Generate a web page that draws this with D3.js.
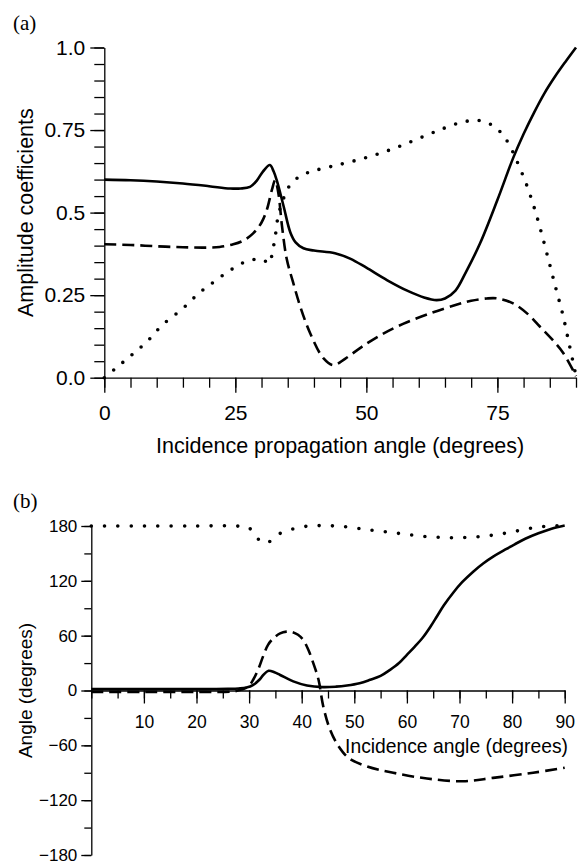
<!DOCTYPE html>
<html>
<head>
<meta charset="utf-8">
<script src="https://cdn.jsdelivr.net/npm/d3@7"></script>
<style>
    body { margin: 0; background: #fff; }
    svg { display: block; }
    .tick text { font-family: "Liberation Sans", Arial, sans-serif; fill: #000; }
    .domain, .tick line { stroke: #000; stroke-width: 1.3; }
    .curve { fill: none; stroke: #000; }
</style>
</head>
<body>
<div id="chart"></div>
<script>
"use strict";

// panel (a): amplitude coefficients vs incidence angle
const aTicksX = [0, 25, 50, 75];
const aTicksY = [0, 0.25, 0.5, 0.75, 1.0];
const aTickLabelsY = ["0.0", "0.25", "0.5", "0.75", "1.0"];

const aSolid = [
    [0, 0.600], [5, 0.598], [10, 0.594], [15, 0.588], [20, 0.580], [24, 0.573], [26, 0.573],
    [27.8, 0.578], [29.1, 0.597], [30.3, 0.625], [31.6, 0.644], [32.3, 0.625], [32.9, 0.598],
    [34.2, 0.52], [35.5, 0.44], [36.5, 0.41], [38, 0.392], [40, 0.385], [44, 0.377], [47, 0.36],
    [50, 0.333], [54, 0.295], [58, 0.262], [61, 0.243], [63.4, 0.235], [65, 0.24], [67, 0.264],
    [69, 0.32], [71.7, 0.407], [75, 0.538], [78, 0.665], [80, 0.738], [82, 0.803], [84, 0.862],
    [86, 0.912], [88, 0.957], [90, 1.0]
];
const aDashed = [
    [0, 0.404], [5, 0.402], [10, 0.398], [15, 0.395], [19.5, 0.394], [22, 0.396], [24.6, 0.404],
    [26.5, 0.415], [28.4, 0.437], [30, 0.47], [31, 0.508], [32, 0.57], [32.6, 0.598], [33.2, 0.56],
    [33.9, 0.46], [34.8, 0.36], [36, 0.29], [37.5, 0.21], [39.3, 0.134], [41.8, 0.059], [43.7, 0.038],
    [46, 0.058], [49, 0.092], [52.6, 0.128], [57, 0.163], [62.2, 0.195], [67, 0.22], [70, 0.233],
    [73, 0.240], [75, 0.24], [78, 0.225], [81, 0.19], [83.1, 0.155], [85.5, 0.115], [87.6, 0.074], [90, 0.005]
];
const aDotted = [
    [0, 0], [2, 0.026], [5, 0.066], [8, 0.107], [11.1, 0.16], [15, 0.21], [18, 0.255], [20.8, 0.289],
    [24, 0.325], [26.9, 0.351], [29.2, 0.359], [30.5, 0.355], [31.5, 0.346], [32.1, 0.385], [32.6, 0.424],
    [32.9, 0.465], [33.5, 0.51], [34.2, 0.543], [35.3, 0.58], [37.2, 0.609], [39.4, 0.624], [41.8, 0.634],
    [45, 0.646], [49.8, 0.666], [54.5, 0.69], [59, 0.718], [63.6, 0.748], [67.4, 0.770], [69.8, 0.778],
    [72.3, 0.777], [74.6, 0.758], [76.3, 0.730], [77.6, 0.695], [78.7, 0.657], [80.6, 0.583], [82.2, 0.506],
    [83.6, 0.427], [84.9, 0.348], [86.2, 0.268], [87.5, 0.19], [88.6, 0.109], [89.7, 0.028], [90, 0.005]
];

// panel (b): phase angles vs incidence angle
const bTicksX = [10, 20, 30, 40, 50, 60, 70, 80, 90];
const bTicksY = [-180, -120, -60, 0, 60, 120, 180];

const bSolid = [
    [0, 1.5], [10, 1.5], [20, 1.5], [26, 1.8], [28, 2.2], [29.5, 3.2], [30.8, 6.2], [32, 12], [32.7, 17],
    [33.7, 21.5], [34.8, 20], [35.9, 17], [38.4, 10], [41, 5.5], [44, 3.7], [46.5, 4.2], [48.6, 5.5],
    [51, 8], [53, 11.7], [55, 16], [56.8, 22.6], [58.5, 30], [60, 39], [61.5, 48], [63.1, 58.5],
    [64.5, 70], [65.7, 81], [67, 93], [68.8, 107], [70.5, 118.5], [72.6, 130], [74.5, 139], [76.4, 146.5],
    [78.5, 153.5], [80.5, 160], [82.5, 166], [85, 172], [87.5, 177], [90, 180.5]
];
const bDashed = [
    [0, -1.5], [10, -1.5], [20, -1.5], [27, -1], [28.5, 1], [29.8, 4], [30.8, 12], [31.7, 22.6],
    [32.7, 38], [33.6, 50], [34.6, 57], [35.9, 62.5], [37.1, 64.4], [38.2, 64], [39.3, 61], [40.3, 55.3],
    [41.3, 44], [42.2, 30], [43.2, 11.7], [44.1, -17.5], [45.4, -43], [47, -61], [48.9, -73.7],
    [52.4, -83], [57.4, -90], [63.8, -96.3], [70.7, -99.3], [76.4, -95.6], [84, -90], [90, -84.5]
];
const bDotted = [
    [0, 180], [10, 180], [20, 180], [27.5, 180], [29.9, 178.3], [31.4, 167.4], [33.2, 160.8],
    [35.2, 169.9], [37.5, 175.3], [40, 179], [42.5, 180.3], [45, 180.3], [47.3, 179.7], [50, 178],
    [52.4, 176], [55, 174.4], [57.5, 172.6], [60, 170.8], [62.5, 169], [65, 168], [67.5, 167.3],
    [70, 167.2], [72.5, 167.8], [75, 169], [77.5, 171], [80, 173.5], [82.5, 176.5], [85, 179],
    [87.5, 180], [90, 180.5]
];

(function () {
    const width = 579;
    const height = 864;

    const svg = d3.select("#chart")
        .append("svg")
        .attr("width", width)
        .attr("height", height);

    const sans = "Liberation Sans, Arial, sans-serif";
    const serif = "Liberation Serif, Times New Roman, serif";

    function drawCurves(g, x, y, solid, dashed, dotted, dotGap) {
        const line = d3.line()
            .x(d => x(d[0]))
            .y(d => y(d[1]))
            .curve(d3.curveCatmullRom.alpha(0.5));

        g.append("path").attr("class", "curve")
            .attr("d", line(dotted))
            .attr("stroke-width", 3.6)
            .attr("stroke-linecap", "round")
            .attr("stroke-dasharray", "0," + dotGap);
        g.append("path").attr("class", "curve")
            .attr("d", line(dashed))
            .attr("stroke-width", 2.6)
            .attr("stroke-dasharray", "12,6");
        g.append("path").attr("class", "curve")
            .attr("d", line(solid))
            .attr("stroke-width", 2.6);
    }

    // ---------- panel (a) ----------
    const xA = d3.scaleLinear().domain([0, 90]).range([104.3, 576]);
    const yA = d3.scaleLinear().domain([0, 1]).range([377.7, 47.5]);

    // minor ticks first, majors on top
    svg.append("g")
        .attr("transform", `translate(0,${yA(0)})`)
        .call(d3.axisBottom(xA).tickValues(d3.range(0, 91, 5)).tickSize(10).tickFormat(""))
        .call(g => g.select(".domain").remove());
    svg.append("g")
        .attr("transform", `translate(0,${yA(0)})`)
        .call(d3.axisBottom(xA).tickValues(aTicksX).tickSize(15).tickSizeOuter(0).tickPadding(12))
        .call(g => g.selectAll("text").attr("font-size", 21));

    svg.append("g")
        .attr("transform", `translate(${xA(0)},0)`)
        .call(d3.axisLeft(yA).tickValues(d3.range(0, 1.001, 0.05)).tickSize(10).tickFormat(""))
        .call(g => g.select(".domain").remove());
    svg.append("g")
        .attr("transform", `translate(${xA(0)},0)`)
        .call(d3.axisLeft(yA).tickValues(aTicksY).tickSize(14).tickSizeOuter(0).tickPadding(5)
            .tickFormat((d, i) => aTickLabelsY[i]))
        .call(g => g.selectAll("text").attr("font-size", 21));

    drawCurves(svg.append("g"), xA, yA, aSolid, aDashed, aDotted, 12);

    svg.append("text")
        .attr("x", (xA(0) + xA(90)) / 2)
        .attr("y", 453)
        .attr("text-anchor", "middle")
        .attr("font-family", sans)
        .attr("font-size", 21.5)
        .text("Incidence propagation angle (degrees)");

    svg.append("text")
        .attr("transform", `translate(33,${(yA(0) + yA(1)) / 2}) rotate(-90)`)
        .attr("text-anchor", "middle")
        .attr("font-family", sans)
        .attr("font-size", 21.5)
        .text("Amplitude coefficients");

    svg.append("text")
        .attr("x", 13)
        .attr("y", 30)
        .attr("font-family", serif)
        .attr("font-size", 21)
        .text("(a)");

    // ---------- panel (b) ----------
    const xB = d3.scaleLinear().domain([0, 90]).range([91.3, 564.7]);
    const yB = d3.scaleLinear().domain([-180, 180]).range([855, 526]);

    svg.append("g")
        .attr("transform", `translate(0,${yB(0)})`)
        .call(d3.axisBottom(xB).tickValues(d3.range(0, 91, 5)).tickSize(8).tickFormat(""))
        .call(g => g.select(".domain").remove());
    svg.append("g")
        .attr("transform", `translate(0,${yB(0)})`)
        .call(d3.axisBottom(xB).tickValues(bTicksX).tickSize(13).tickSizeOuter(0).tickPadding(12))
        .call(g => g.selectAll("text").attr("font-size", 17.5));

    svg.append("g")
        .attr("transform", `translate(${xB(0)},0)`)
        .call(d3.axisLeft(yB).tickValues(d3.range(-180, 181, 30)).tickSize(7).tickFormat(""))
        .call(g => g.select(".domain").remove());
    svg.append("g")
        .attr("transform", `translate(${xB(0)},0)`)
        .call(d3.axisLeft(yB).tickValues(bTicksY).tickSize(10).tickSizeOuter(0).tickPadding(4)
            .tickFormat(d3.format("d")))
        .call(g => g.selectAll("text").attr("font-size", 17));

    drawCurves(svg.append("g"), xB, yB, bSolid, bDashed, bDotted, 13.3);

    svg.append("text")
        .attr("x", 568)
        .attr("y", 752.5)
        .attr("text-anchor", "end")
        .attr("font-family", sans)
        .attr("font-size", 19.3)
        .text("Incidence angle (degrees)");

    svg.append("text")
        .attr("transform", `translate(32,${(yB(-180) + yB(180)) / 2}) rotate(-90)`)
        .attr("text-anchor", "middle")
        .attr("font-family", sans)
        .attr("font-size", 19)
        .text("Angle (degrees)");

    svg.append("text")
        .attr("x", 13)
        .attr("y", 508)
        .attr("font-family", serif)
        .attr("font-size", 21)
        .text("(b)");
})();
</script>
</body>
</html>
